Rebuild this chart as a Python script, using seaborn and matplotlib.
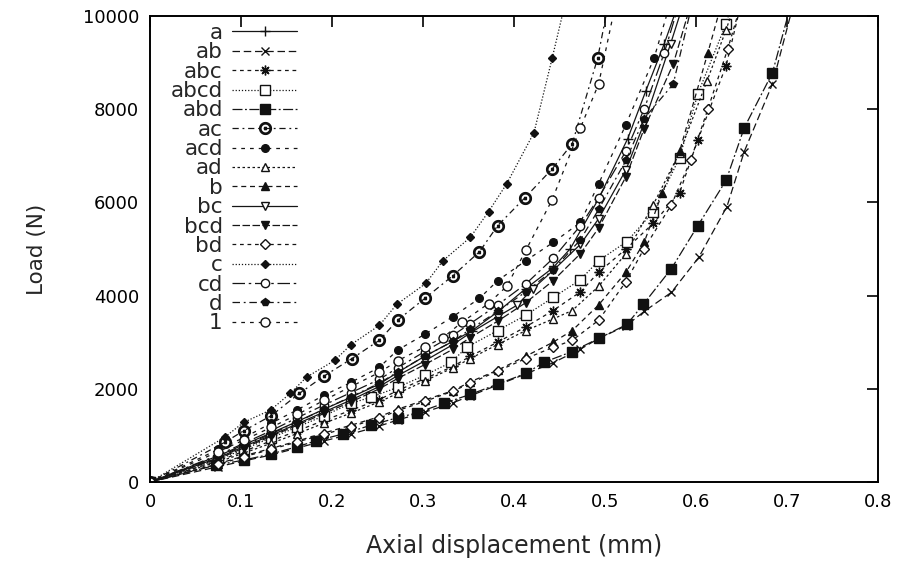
import matplotlib
matplotlib.use("Agg")
import matplotlib.pyplot as plt
import seaborn as sns

sns.set_theme(style="white")
plt.rcParams['font.family'] = ['DejaVu Sans']

labels = ['a', 'ab', 'abc', 'abcd', 'abd', 'ac', 'acd', 'ad', 'b', 'bc', 'bcd', 'bd', 'c', 'cd', 'd', '1']

x_a = [0, 0.075, 0.103, 0.133, 0.162, 0.191, 0.221, 0.252, 0.272, 0.302, 0.333, 0.354, 0.382, 0.413, 0.443, 0.462, 0.493, 0.525, 0.545, 0.565, 0.585]
y_a = [0, 560, 800, 1050, 1300, 1560, 1820, 2100, 2350, 2700, 3020, 3250, 3650, 4150, 4600, 5010, 6080, 7370, 8400, 9400, 10500]

x_ab = [0, 0.075, 0.103, 0.133, 0.162, 0.191, 0.221, 0.252, 0.272, 0.302, 0.333, 0.352, 0.382, 0.413, 0.443, 0.473, 0.493, 0.523, 0.543, 0.573, 0.603, 0.634, 0.653, 0.684, 0.705]
y_ab = [0, 330, 450, 580, 730, 880, 1030, 1200, 1330, 1500, 1700, 1850, 2080, 2320, 2560, 2850, 3080, 3350, 3660, 4070, 4820, 5910, 7090, 8540, 10100]

x_abc = [0, 0.075, 0.103, 0.133, 0.162, 0.191, 0.221, 0.252, 0.272, 0.302, 0.333, 0.352, 0.382, 0.413, 0.443, 0.473, 0.493, 0.523, 0.553, 0.582, 0.602, 0.633, 0.65]
y_abc = [0, 450, 660, 880, 1100, 1320, 1540, 1770, 1960, 2220, 2480, 2700, 3000, 3330, 3680, 4080, 4500, 5000, 5550, 6210, 7340, 8930, 10300]

x_abcd = [0, 0.075, 0.103, 0.133, 0.162, 0.191, 0.221, 0.243, 0.272, 0.302, 0.331, 0.348, 0.382, 0.413, 0.443, 0.473, 0.493, 0.524, 0.553, 0.582, 0.602, 0.633, 0.65]
y_abcd = [0, 480, 700, 950, 1180, 1420, 1690, 1820, 2030, 2290, 2570, 2890, 3250, 3580, 3960, 4340, 4750, 5160, 5800, 6960, 8330, 9830, 11000]

x_abd = [0, 0.072, 0.103, 0.133, 0.162, 0.182, 0.212, 0.243, 0.272, 0.293, 0.323, 0.352, 0.382, 0.413, 0.433, 0.464, 0.493, 0.524, 0.542, 0.573, 0.602, 0.633, 0.653, 0.684, 0.705]
y_abd = [0, 360, 470, 600, 760, 880, 1030, 1220, 1380, 1480, 1690, 1880, 2100, 2330, 2570, 2800, 3080, 3380, 3810, 4580, 5500, 6470, 7600, 8780, 10300]

x_ac = [0, 0.082, 0.103, 0.133, 0.164, 0.191, 0.222, 0.252, 0.272, 0.302, 0.333, 0.362, 0.382, 0.412, 0.442, 0.464, 0.492, 0.51]
y_ac = [0, 850, 1100, 1420, 1900, 2270, 2650, 3040, 3470, 3940, 4430, 4940, 5500, 6100, 6720, 7260, 9100, 10900]

x_acd = [0, 0.075, 0.103, 0.133, 0.162, 0.191, 0.221, 0.252, 0.272, 0.302, 0.333, 0.362, 0.382, 0.413, 0.443, 0.473, 0.493, 0.523, 0.554, 0.572]
y_acd = [0, 700, 950, 1260, 1550, 1860, 2140, 2460, 2830, 3170, 3550, 3940, 4320, 4750, 5140, 5570, 6400, 7670, 9100, 10300]

x_ad = [0, 0.075, 0.103, 0.133, 0.162, 0.191, 0.221, 0.252, 0.272, 0.302, 0.333, 0.352, 0.382, 0.413, 0.443, 0.464, 0.493, 0.523, 0.553, 0.582, 0.612, 0.633, 0.645]
y_ad = [0, 430, 620, 830, 1040, 1260, 1480, 1720, 1900, 2170, 2450, 2650, 2950, 3250, 3500, 3680, 4200, 4900, 5950, 7070, 8600, 9700, 10400]

x_b = [0, 0.075, 0.103, 0.133, 0.162, 0.191, 0.221, 0.252, 0.272, 0.302, 0.333, 0.352, 0.382, 0.413, 0.443, 0.464, 0.493, 0.523, 0.543, 0.563, 0.582, 0.613, 0.63]
y_b = [0, 390, 560, 720, 880, 1050, 1220, 1400, 1560, 1760, 1960, 2150, 2400, 2700, 3000, 3250, 3800, 4500, 5140, 6210, 7100, 9210, 10400]

x_bc = [0, 0.075, 0.103, 0.133, 0.162, 0.191, 0.221, 0.252, 0.272, 0.302, 0.333, 0.352, 0.382, 0.403, 0.421, 0.443, 0.473, 0.493, 0.523, 0.543, 0.572, 0.59]
y_bc = [0, 520, 760, 1000, 1250, 1500, 1760, 2050, 2280, 2600, 2950, 3200, 3550, 3790, 4150, 4540, 5100, 5650, 6700, 7700, 9400, 10500]

x_bcd = [0, 0.075, 0.103, 0.133, 0.162, 0.191, 0.221, 0.252, 0.272, 0.302, 0.333, 0.352, 0.382, 0.413, 0.443, 0.473, 0.493, 0.523, 0.543, 0.575, 0.595]
y_bcd = [0, 500, 730, 980, 1220, 1470, 1720, 2000, 2220, 2520, 2850, 3100, 3450, 3850, 4320, 4900, 5450, 6550, 7580, 8970, 10300]

x_bd = [0, 0.075, 0.103, 0.133, 0.162, 0.191, 0.221, 0.252, 0.272, 0.302, 0.333, 0.352, 0.382, 0.413, 0.443, 0.464, 0.493, 0.523, 0.543, 0.573, 0.594, 0.613, 0.635, 0.65]
y_bd = [0, 380, 540, 700, 860, 1020, 1190, 1370, 1530, 1730, 1950, 2120, 2380, 2650, 2890, 3040, 3470, 4300, 5010, 5950, 6900, 8000, 9300, 10300]

x_c = [0, 0.082, 0.103, 0.133, 0.154, 0.172, 0.203, 0.221, 0.252, 0.271, 0.303, 0.322, 0.352, 0.372, 0.392, 0.422, 0.442, 0.465]
y_c = [0, 960, 1280, 1550, 1900, 2250, 2610, 2950, 3360, 3810, 4260, 4750, 5250, 5800, 6400, 7500, 9100, 11000]

x_cd = [0, 0.075, 0.103, 0.133, 0.162, 0.191, 0.221, 0.252, 0.272, 0.302, 0.333, 0.352, 0.382, 0.413, 0.443, 0.473, 0.493, 0.523, 0.543, 0.565, 0.582]
y_cd = [0, 580, 830, 1100, 1380, 1650, 1920, 2200, 2450, 2800, 3150, 3400, 3800, 4250, 4800, 5500, 6100, 7100, 8000, 9200, 10300]

x_d = [0, 0.075, 0.103, 0.133, 0.162, 0.191, 0.221, 0.252, 0.272, 0.302, 0.333, 0.352, 0.382, 0.413, 0.443, 0.473, 0.493, 0.523, 0.543, 0.575, 0.595]
y_d = [0, 540, 780, 1030, 1290, 1560, 1830, 2120, 2360, 2700, 3020, 3280, 3660, 4080, 4550, 5200, 5850, 6900, 7800, 8540, 10200]

x_1 = [0, 0.075, 0.103, 0.133, 0.162, 0.191, 0.221, 0.252, 0.272, 0.302, 0.322, 0.343, 0.372, 0.392, 0.413, 0.442, 0.473, 0.493, 0.512]
y_1 = [0, 650, 900, 1170, 1450, 1750, 2050, 2350, 2600, 2900, 3100, 3430, 3830, 4200, 4970, 6060, 7600, 8540, 10300]

series = {
    'a': (x_a, y_a), 'ab': (x_ab, y_ab), 'abc': (x_abc, y_abc), 'abcd': (x_abcd, y_abcd),
    'abd': (x_abd, y_abd), 'ac': (x_ac, y_ac), 'acd': (x_acd, y_acd), 'ad': (x_ad, y_ad),
    'b': (x_b, y_b), 'bc': (x_bc, y_bc), 'bcd': (x_bcd, y_bcd), 'bd': (x_bd, y_bd),
    'c': (x_c, y_c), 'cd': (x_cd, y_cd), 'd': (x_d, y_d), '1': (x_1, y_1),
}

x_ticks = [0, 0.1, 0.2, 0.3, 0.4, 0.5, 0.6, 0.7, 0.8]
x_ticklabels = ['0', '0.1', '0.2', '0.3', '0.4', '0.5', '0.6', '0.7', '0.8']
y_ticks = [0, 2000, 4000, 6000, 8000, 10000]
y_ticklabels = ['0', '2000', '4000', '6000', '8000', '10000']

# style: marker, markersize, open?, dash pattern (None = solid)
styles = {
    'a':    ('+', 7, False, None),
    'ab':   ('x', 6, False, (6, 3)),
    'abc':  ((8, 2, 0), 7, False, (3, 3)),
    'abcd': ('s', 6.5, True, (1, 1.5)),
    'abd':  ('s', 6.5, False, (8, 2, 1.5, 2)),
    'ac':   ('$\\odot$', 8.5, False, (5, 3, 1.5, 3)),
    'acd':  ('o', 5.5, False, (3, 4)),
    'ad':   ('^', 6, True, (2, 2)),
    'b':    ('^', 5.5, False, (4, 3)),
    'bc':   ('v', 6, True, None),
    'bcd':  ('v', 5.5, False, (6, 2)),
    'bd':   ('D', 5, True, (3, 3)),
    'c':    ('D', 4.5, False, (1, 1.5)),
    'cd':   ('o', 6, True, (10, 3, 2, 3)),
    'd':    ('p', 5.5, False, (6, 3, 1.5, 3)),
    '1':    ('o', 6.5, True, (3, 4)),
}

fig = plt.figure(figsize=(9.05, 5.72), dpi=100)
ax = fig.add_axes([150 / 905, 1 - 482 / 572, 728 / 905, 466 / 572])

handles = []
for lab in labels:
    xs, ys = series[lab]
    mk, ms, is_open, dash = styles[lab]
    sns.lineplot(x=xs, y=ys, ax=ax, color='black', marker=mk, markersize=ms,
                 linewidth=0.9, estimator=None, sort=False, legend=False)
    line = ax.lines[-1]
    line.set_label(lab)
    line.set_color('#151515')
    line.set_markeredgecolor('#111111')
    line.set_markeredgewidth(1.0)
    if is_open:
        line.set_markerfacecolor('white')
    else:
        line.set_markerfacecolor('#111111')
    if dash is None:
        line.set_linestyle('-')
    else:
        line.set_linestyle((0, dash))
    handles.append(line)

ax.set_xlim(0, 0.8)
ax.set_ylim(0, 10000)
ax.set_xticks(x_ticks)
ax.set_xticklabels(x_ticklabels)
ax.set_yticks(y_ticks)
ax.set_yticklabels(y_ticklabels)
ax.tick_params(direction='in', length=8, width=1.2, top=True, right=True,
               labelsize=13, pad=8, colors='black')
for sp in ax.spines.values():
    sp.set_visible(True)
    sp.set_color('black')
    sp.set_linewidth(1.4)

ax.set_xlabel('Axial displacement (mm)', fontsize=17)
ax.set_ylabel('Load (N)', fontsize=15.5)
ax.xaxis.set_label_coords(0.5, -0.112)
ax.yaxis.set_label_coords(-0.142, 0.5)

ax.legend(handles=handles, labels=labels, loc='upper right', bbox_to_anchor=(0.202, 0.985),
          markerfirst=False, frameon=False, fontsize=15.5, handlelength=3.0,
          handletextpad=0.45, labelspacing=-0.03, borderpad=0, borderaxespad=0, numpoints=1)

fig.savefig('out.png', dpi=100)
